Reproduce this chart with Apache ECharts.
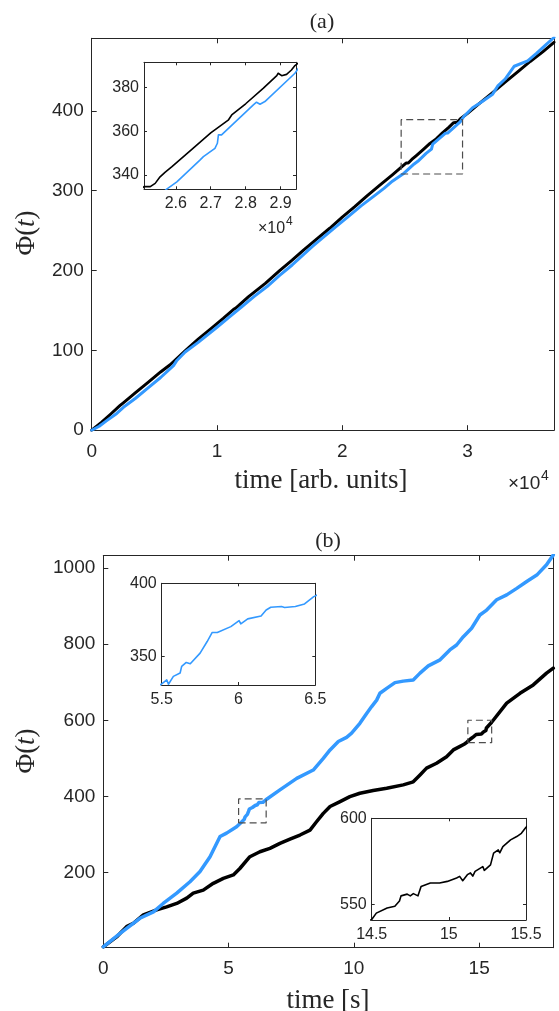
<!DOCTYPE html>
<html>
<head>
<meta charset="utf-8">
<script src="https://cdn.jsdelivr.net/npm/echarts@6/dist/echarts.min.js"></script>
<style>
  html, body { margin: 0; padding: 0; background: #fff; }
  #chart { width: 559px; height: 1011px; }
</style>
</head>
<body>
<div id="chart"></div>
<script>
// ---------- Panel (a): phase vs time [arb. units] ----------
const aBlackT   = [0, 800, 1500, 2270, 2500, 3500, 4500, 5500, 6260, 6400, 7500, 8500, 9500, 10500, 11330, 11500, 12500, 13860, 15000, 16000, 16930, 18000, 19000, 20000, 21000, 22000, 23000, 24000, 24600, 25090, 25270, 25410, 25550, 25690, 25890, 26500, 27000, 27500, 27600, 28000, 28500, 28890, 28930, 29030, 29170, 29310, 29410, 30000, 31000, 32000, 33000, 34000, 35000, 36000, 36900];
const aBlackPhi = [0, 10, 20, 31, 34, 47, 60, 73, 82, 84, 100, 114, 127, 140, 151.5, 153, 167, 184, 200, 213, 226, 240, 253, 267, 280, 294, 307, 320, 328, 334.7, 334.7, 336.2, 339.2, 341.2, 343.8, 352.3, 359.2, 365, 367.4, 372.5, 379.5, 385.3, 386.4, 385.3, 385.9, 387.9, 389.9, 397, 410, 423, 436, 449, 462, 474, 486];

const aBlueT   = [0, 600, 1200, 2000, 2530, 3500, 4500, 5500, 6530, 6800, 7460, 8500, 10000, 11000, 12000, 13000, 14000, 15000, 16000, 17600, 18500, 19500, 20500, 21500, 22500, 23330, 24000, 24930, 25740, 26030, 26690, 26790, 27120, 27190, 27220, 27310, 28220, 28310, 28410, 28550, 29410, 29700, 30400, 31000, 32000, 32400, 33000, 33730, 34800, 35500, 36200, 36900];
const aBluePhi = [0, 5, 12, 21, 28.7, 40, 53, 66, 81, 87.4, 97.9, 110, 129, 142, 155, 168, 180, 194, 207, 230, 242, 255, 268, 281, 293, 303, 312, 322, 333.6, 336.9, 346.8, 348.4, 352.2, 354.5, 358.3, 358.3, 372, 373.2, 372.3, 373.5, 386.4, 393, 404, 410, 421, 431, 440, 456, 462.6, 472, 482, 492];

// zoom window marked on the main panel (a)
const aBoxT   = [24700, 29600];
const aBoxPhi = [321, 389];

// axis limits and ticks, panel (a)
const aXLim = [0, 36900],      aYLim = [0, 491];
const aXTicks = [0, 10000, 20000, 30000], aYTicks = [0, 100, 200, 300, 400];
const aInXLim = [25090, 29440], aInYLim = [333.5, 391.4];
const aInXTicks = [26000, 27000, 28000, 29000], aInYTicks = [340, 360, 380];

// ---------- Panel (b): phase vs time [s] ----------
const bBlueT   = [0, 0.67, 1.46, 2.0, 2.39, 2.93, 3.46, 3.86, 4.26, 4.66, 4.92, 5.32,
  5.5, 5.533, 5.544, 5.576, 5.62, 5.63, 5.66, 5.686, 5.75, 5.796, 5.829, 5.862, 5.95, 6.004, 6.015, 6.06, 6.07, 6.147, 6.18, 6.21, 6.28, 6.3, 6.37, 6.43, 6.44, 6.49, 6.5,
  7.05, 7.72, 8.38, 8.78, 9.05, 9.38, 9.71, 9.91, 10.24, 10.51, 10.71, 10.91, 11.04, 11.31, 11.64, 11.97, 12.37, 12.64, 12.97, 13.44, 13.83, 14.1, 14.37, 14.7, 15.03, 15.3, 15.7, 16.1, 16.5, 16.9, 17.3, 17.69, 17.96];
const bBluePhi = [4, 39, 79, 96, 118, 145, 175, 202, 241, 294, 303, 320,
  331.2, 334, 331, 336.4, 338.7, 343.2, 345.9, 345, 352.3, 360.2, 366.4, 366.4, 370.4, 374.5, 372.3, 375.7, 374.5, 377.7, 381.8, 383.6, 384.1, 383.5, 384.1, 385.9, 385, 390.9, 392,
  417, 447, 469, 500, 522, 544, 555, 566, 592, 618, 636, 653, 671, 684, 699, 703, 706, 724, 743, 759, 785, 798, 820, 842, 877, 890, 917, 930, 947, 965, 982, 1009, 1035];

const bBlackT   = [0, 0.53, 0.93, 1.2, 1.6, 2.13, 2.53, 2.93, 3.33, 3.59, 3.99, 4.39, 4.79, 5.19, 5.45, 5.85, 6.25, 6.65, 7.05, 7.45, 7.85, 8.25, 8.51, 8.78, 9.05, 9.45, 9.84, 10.24, 10.77, 11.31, 11.97, 12.37, 12.64, 12.9, 13.3, 13.7, 13.97, 14.2, 14.4,
  14.5, 14.53, 14.6, 14.65, 14.68, 14.69, 14.73, 14.75, 14.77, 14.8, 14.82, 14.88, 14.94, 14.99, 15.05, 15.07, 15.09, 15.12, 15.14, 15.155, 15.17, 15.22, 15.23, 15.27, 15.29, 15.32, 15.33, 15.35, 15.4, 15.44, 15.47, 15.5,
  16.1, 16.63, 17.16, 17.69, 17.96];
const bBlackPhi = [4, 30, 57, 66, 88, 101, 109, 118, 132, 145, 153, 171, 184, 193, 210, 241, 254, 263, 276, 287, 298, 311, 333, 355, 373, 386, 399, 408, 415, 421, 430, 438, 456, 474, 487, 504, 522, 530, 537,
  541.3, 545, 548, 549, 552, 555, 556, 555, 556.3, 555, 560.5, 562.5, 562.5, 563.4, 565.4, 566.3, 563.8, 567.3, 568.3, 566.5, 569.2, 572, 569.8, 573, 579.8, 581.7, 580, 583.6, 587.5, 589.4, 591.3, 594.8,
  645, 671, 693, 724, 737];

// zoom windows marked on the main panel (b)
const bBox1T = [5.4, 6.5],    bBox1Phi = [330, 393];
const bBox2T = [14.55, 15.5], bBox2Phi = [541, 600];

// axis limits and ticks, panel (b)
const bXLim = [0, 17.96], bYLim = [1.6, 1033];
const bXTicks = [0, 5, 10, 15], bYTicks = [200, 400, 600, 800, 1000];
const bIn1XLim = [5.5, 6.5],   bIn1YLim = [330.5, 400];
const bIn1XTicks = [5.5, 6, 6.5], bIn1YTicks = [350, 400];
const bIn2XLim = [14.5, 15.5], bIn2YLim = [541, 600];
const bIn2XTicks = [14.5, 15, 15.5], bIn2YTicks = [550, 600];

// ---------- helpers ----------
const zip = (xs, ys) => xs.map((x, i) => [x, ys[i]]);
const boxPath = (xr, yr) => [[xr[0], yr[0]], [xr[1], yr[0]], [xr[1], yr[1]], [xr[0], yr[1]], [xr[0], yr[0]]];

const AX = '#262626';
const SANS = '"Liberation Sans", Arial, Helvetica, sans-serif';
const SERIF = '"Liberation Serif", "Times New Roman", serif';

const grids = [
  { left: 91.7,  top: 38.3,  width: 462.3, height: 391.9 },  // (a) main
  { left: 144,   top: 62.3,  width: 152,   height: 127 },    // (a) inset
  { left: 103.3, top: 555.7, width: 450,   height: 392 },    // (b) main
  { left: 161.7, top: 583.3, width: 153.6, height: 101.7 },  // (b) upper inset
  { left: 371.7, top: 818.3, width: 154.3, height: 101.7 }   // (b) lower inset
].map(g => Object.assign({ show: true, backgroundColor: '#fff', borderWidth: 0, containLabel: false }, g));

const xAxes = [], yAxes = [];
function boxAxes(gi, xl, yl, xt, yt, o) {
  const common = (pos, lim, ticks, showLabel, fmt, margin) => ({
    type: 'value', gridIndex: gi, position: pos, min: lim[0], max: lim[1],
    splitLine: { show: false },
    axisLine: { show: true, onZero: false, lineStyle: { color: AX, width: 1 } },
    axisTick: { show: true, inside: true, length: o.tick, customValues: ticks, lineStyle: { color: AX, width: 1 } },
    axisLabel: { show: showLabel, customValues: ticks, formatter: fmt, margin: margin,
                 color: AX, fontFamily: SANS, fontSize: o.fs, showMinLabel: true, showMaxLabel: true }
  });
  xAxes.push(common('bottom', xl, xt, true, o.fx, o.mx));
  xAxes.push(common('top', xl, xt, false, o.fx, 0));
  yAxes.push(common('left', yl, yt, true, o.fy, o.my));
  yAxes.push(common('right', yl, yt, false, o.fy, 0));
}
const plain = v => String(+v.toFixed(3));
boxAxes(0, aXLim, aYLim, aXTicks, aYTicks, { tick: 5, fs: 19, mx: 12, my: 8, fx: v => String(v / 10000), fy: plain });
boxAxes(1, aInXLim, aInYLim, aInXTicks, aInYTicks, { tick: 3, fs: 16, mx: 6, my: 5, fx: v => (v / 10000).toFixed(1), fy: plain });
boxAxes(2, bXLim, bYLim, bXTicks, bYTicks, { tick: 5, fs: 19, mx: 12, my: 8, fx: plain, fy: plain });
boxAxes(3, bIn1XLim, bIn1YLim, bIn1XTicks, bIn1YTicks, { tick: 3, fs: 16, mx: 7, my: 5, fx: plain, fy: plain });
boxAxes(4, bIn2XLim, bIn2YLim, bIn2XTicks, bIn2YTicks, { tick: 3, fs: 16, mx: 7, my: 5, fx: plain, fy: plain });

const BLUE = '#3399ff', BLACK = '#000000';
function line(gi, data, color, width) {
  return { type: 'line', xAxisIndex: 2 * gi, yAxisIndex: 2 * gi, data: data, showSymbol: false,
           symbol: 'none', clip: true, animation: false, silent: true,
           lineStyle: { color: color, width: width, join: 'round', cap: 'round' }, z: 3 };
}
function dashBox(gi, xr, yr) {
  return { type: 'line', xAxisIndex: 2 * gi, yAxisIndex: 2 * gi, data: boxPath(xr, yr), showSymbol: false,
           symbol: 'none', animation: false, silent: true,
           lineStyle: { color: '#4d4d4d', width: 1.2, type: [7, 4] }, z: 4 };
}

const aBlack = zip(aBlackT, aBlackPhi), aBlue = zip(aBlueT, aBluePhi);
const bBlack = zip(bBlackT, bBlackPhi), bBlue = zip(bBlueT, bBluePhi);

const series = [
  line(0, aBlack, BLACK, 3), line(0, aBlue, BLUE, 3), dashBox(0, aBoxT, aBoxPhi),
  line(1, aBlack, BLACK, 1.6), line(1, aBlue, BLUE, 1.6),
  line(2, bBlack, BLACK, 3.5), line(2, bBlue, BLUE, 3.5), dashBox(2, bBox1T, bBox1Phi), dashBox(2, bBox2T, bBox2Phi),
  line(3, bBlue, BLUE, 1.6),
  line(4, bBlack, BLACK, 1.6)
];

function txt(x, y, text, font, extra) {
  return Object.assign({ type: 'text', x: x, y: y, silent: true, z: 10,
    style: { text: text, font: font, fill: AX, align: 'center', verticalAlign: 'middle' } }, extra || {});
}
function phiLabel(x, y) {
  return { type: 'text', x: x, y: y, rotation: Math.PI / 2, silent: true, z: 10,
    style: { text: '{n|Φ(}{i|t}{n|)}', align: 'center', verticalAlign: 'middle', fill: AX,
      rich: { n: { fontFamily: SERIF, fontSize: 27, fill: AX },
              i: { fontFamily: SERIF, fontSize: 27, fontStyle: 'italic', fill: AX } } } };
}
function expLabel(x, y, fsBase, fsExp, dx, dy) {
  return [
    { type: 'text', x: x, y: y, silent: true, z: 10,
      style: { text: '×10', font: fsBase + 'px ' + SANS, fill: AX, align: 'left', verticalAlign: 'middle' } },
    { type: 'text', x: x + dx, y: y - dy, silent: true, z: 10,
      style: { text: '4', font: fsExp + 'px ' + SANS, fill: AX, align: 'left', verticalAlign: 'middle' } }
  ];
}

const graphic = [
  txt(322, 22, '(a)', '22px ' + SERIF),
  txt(321, 481, 'time [arb. units]', '27px ' + SERIF),
  phiLabel(27, 233),
  ...expLabel(508, 484, 19, 14, 33, 8),
  ...expLabel(258, 229, 16, 12, 28, 7),
  txt(328, 541, '(b)', '22px ' + SERIF),
  txt(328, 1001, 'time [s]', '27px ' + SERIF),
  phiLabel(27, 751)
];

const chart = echarts.init(document.getElementById('chart'), null, { renderer: 'canvas' });
chart.setOption({
  animation: false,
  backgroundColor: '#ffffff',
  grid: grids,
  xAxis: xAxes,
  yAxis: yAxes,
  series: series,
  graphic: { elements: graphic }
});
</script>
</body>
</html>
